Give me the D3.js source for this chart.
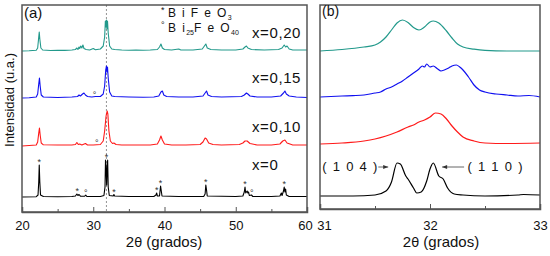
<!DOCTYPE html>
<html><head><meta charset="utf-8">
<script src="https://cdn.jsdelivr.net/npm/d3@7"></script>
<style>
html,body{margin:0;padding:0;background:#fff;}
text{font-family:Arial,"Liberation Sans",sans-serif;fill:#111;}
</style></head>
<body>
<svg id="chart" width="550" height="256"></svg>
<script>
// ---------- DATA ----------
const seriesNames = ["x=0,20", "x=0,15", "x=0,10", "x=0"];
const seriesColors = ["#22998b", "#1010f0", "#ff1a1a", "#000000"];
const leftTicks = [20, 30, 40, 50, 60];
const leftMinorTicks = [25, 35, 45, 55];
const rightTicks = [31, 32, 33];
const rightMinorTicks = [31.5, 32.5];
const leftOffsets = [161, 114, 66, 15];
const rightOffsets = [158, 112, 65, 13];
const dashedTheta = 31.85;

// Panel (a): 2θ vs intensity (a.u.) above each baseline
const leftX020 = [[20,0],[21,0.3],[22,0.8],[22.2,3],[22.35,14],[22.42,19],[22.5,12],[22.65,3],[22.9,1],[24,0.5],[25,0.8],[26,0.6],[27,1],[27.5,1.5],[27.7,3],[27.85,1.5],[28.0,4],[28.1,2.5],[28.25,5],[28.4,3],[28.55,6],[28.7,2.5],[29.0,1.5],[29.5,1],[30.0,2.5],[30.3,1.2],[31.0,2],[31.4,5],[31.6,14],[31.7,30],[31.78,24],[31.85,31],[31.92,22],[32.0,30],[32.1,18],[32.3,5],[32.6,2],[33,1.5],[34,1],[35,0.8],[36,1],[37,0.7],[38,1],[39,1.5],[39.3,4],[39.5,7],[39.7,3],[40,1.5],[41,1],[42,2],[42.3,1],[44,1],[45.3,2],[45.6,5],[45.8,7],[46.0,3],[46.5,1.5],[48,1],[50,1],[51,2],[51.3,4],[51.5,5],[51.7,3],[52.2,1.5],[54,1],[56,1.5],[56.5,3],[56.8,6],[57.0,4],[57.2,5],[57.5,2],[58,1],[60,1]];
const leftX015 = [[20,0],[21,0.3],[22,1],[22.2,4],[22.35,14],[22.45,20],[22.55,12],[22.7,3],[23,1],[25,0.5],[27,1],[27.8,1.5],[28.0,3],[28.2,2],[28.5,4],[28.7,5],[28.9,3],[29.2,1.5],[29.8,1],[30.3,1.5],[31,1.5],[31.4,4],[31.6,12],[31.75,28],[31.85,32],[31.92,26],[32.0,31],[32.1,20],[32.3,6],[32.6,2],[33,1.5],[35,1],[37,0.8],[38.5,1],[39.2,2],[39.5,6],[39.7,7],[39.9,3],[40.3,1.5],[42,1],[44,1],[45.4,2],[45.7,5],[45.9,7],[46.1,3],[46.6,1.5],[48,1],[50.8,1.5],[51.2,3],[51.5,5],[51.7,4],[52,2],[53,1],[55,1],[56.3,2],[56.7,5],[56.9,7],[57.1,4],[57.5,2],[58.5,1],[60,0.5]];
const leftX010 = [[20,0],[21,0.5],[22,1],[22.2,4],[22.35,13],[22.45,18],[22.55,11],[22.7,3],[23,1.2],[25,1],[27,1],[27.5,1.5],[27.7,3.5],[27.9,1.5],[28.1,2],[28.4,1],[28.9,2.5],[29.2,1],[30,1],[31,1.5],[31.4,5],[31.6,15],[31.8,30],[31.95,35],[32.05,32],[32.2,15],[32.4,5],[32.7,2.5],[32.9,3],[33.2,1.5],[34,1],[36,1],[38,1],[39,2],[39.3,6],[39.5,10],[39.7,6],[40,2],[41,1],[43,1],[45,1.5],[45.4,4],[45.7,8],[45.9,7],[46.2,3],[46.8,1.5],[48,1],[50.5,1.5],[51,3],[51.3,5],[51.6,5],[52,2.5],[53,1],[55,1],[56.2,2],[56.6,5],[56.9,6],[57.2,3],[58,1],[60,1]];
const leftX000 = [[20,0],[22,0.3],[22.25,2],[22.35,15],[22.42,32],[22.5,15],[22.6,2],[23,0.5],[25,0.3],[27,0.5],[27.5,1],[27.7,3],[27.85,1.5],[28,2.5],[28.2,0.8],[28.8,0.8],[28.95,1.8],[29.1,0.5],[31,0.5],[31.5,1.5],[31.65,10],[31.72,37],[31.8,28],[31.88,12],[31.95,30],[32.02,37],[32.1,10],[32.25,1.5],[32.8,1],[32.9,2.5],[33.0,1],[35,0.5],[38.5,0.5],[38.8,2],[38.9,4],[39.0,1],[39.3,1],[39.45,11],[39.55,6],[39.65,1],[42,0.5],[45.5,0.5],[45.7,3],[45.8,12],[45.9,7],[46.0,1],[50,0.5],[51,1],[51.2,5],[51.3,10],[51.4,4],[51.6,6],[51.7,4],[51.8,5],[51.9,1.5],[52.2,2],[52.4,0.5],[55,0.5],[56.2,1],[56.4,4],[56.5,1.5],[56.7,6],[56.8,10],[56.9,5],[57.0,8],[57.1,2],[57.5,0.5],[60,0.5]];

// Phase markers: [2θ, level above baseline]
const starMarksX000 = [[22.42,35],[27.75,6],[31.87,40],[32.9,5],[38.9,7],[39.45,14],[45.8,15],[51.3,13],[56.8,13]];
const circMarksX000 = [[28.95,4],[52.25,4]];
const circMarksX015 = [[30.2,3]];
const circMarksX010 = [[30.5,3]];

// Panel (b): zoom 31–33°
const rightX020 = [[31.0,0],[31.2,1.5],[31.4,4],[31.5,6],[31.55,9],[31.6,14],[31.65,21],[31.7,28],[31.75,31],[31.8,28.5],[31.85,23.5],[31.9,21],[31.95,24],[32.0,29],[32.03,30],[32.08,28],[32.15,20],[32.2,13],[32.25,7],[32.3,4],[32.4,1.8],[32.5,0.6],[32.7,0],[33.0,0]];
const rightX015 = [[31.0,0],[31.1,0.5],[31.2,1],[31.3,1.4],[31.4,2],[31.5,4],[31.55,5],[31.6,8],[31.65,10],[31.7,13],[31.75,16],[31.8,20],[31.85,24],[31.9,28],[31.93,31],[31.95,30],[31.97,33],[32.0,30],[32.03,31],[32.07,28],[32.1,26],[32.13,27],[32.17,29],[32.2,31],[32.24,32],[32.27,30],[32.3,27],[32.35,20],[32.4,12],[32.45,7],[32.5,5],[32.6,3],[32.7,2],[32.8,1],[32.9,1.5],[33.0,0]];
const rightX010 = [[31.0,0],[31.2,1],[31.4,3],[31.5,5],[31.6,8],[31.7,12],[31.8,17],[31.85,19],[31.9,22],[31.95,24],[32.0,27],[32.05,31],[32.1,30],[32.15,25],[32.2,18],[32.25,12],[32.3,7],[32.4,3],[32.5,1],[32.7,0.5],[33.0,1]];
const rightX000 = [[31.0,0],[31.3,0],[31.5,1],[31.6,5],[31.65,14],[31.7,33],[31.73,32],[31.78,20],[31.8,17],[31.85,8],[31.88,3],[31.92,4],[31.97,15],[32.0,27],[32.03,33],[32.08,20],[32.12,17],[32.16,8],[32.22,2],[32.3,1],[32.5,0],[32.8,1],[32.85,1.5],[33.0,1]];

const leftSeries = [leftX020, leftX015, leftX010, leftX000];
const rightSeries = [rightX020, rightX015, rightX010, rightX000];

// ---------- DRAW ----------
const svg = d3.select("#chart");
const L = {x0:22, x1:307, y0:5, y1:212};
const R = {x0:320, x1:540, y0:5, y1:209};

const xL = d3.scaleLinear().domain([20,60]).range([L.x0, L.x1]);
const yL = d3.scaleLinear().domain([0,207]).range([L.y1, L.y0]);
const xR = d3.scaleLinear().domain([31,33]).range([R.x0, R.x1]);
const yR = d3.scaleLinear().domain([0,204]).range([R.y1, R.y0]);

// dashed line
svg.append("line")
  .attr("x1", xL(dashedTheta)).attr("x2", xL(dashedTheta))
  .attr("y1", L.y0).attr("y2", L.y1)
  .attr("stroke", "#777").attr("stroke-width", 0.8).attr("stroke-dasharray", "2,2");

// curves
leftSeries.forEach((s, i) => {
  const line = d3.line().x(d => xL(d[0])).y(d => yL(d[1] + leftOffsets[i]));
  svg.append("path").attr("d", line(s)).attr("fill", "none")
    .attr("stroke", seriesColors[i]).attr("stroke-width", 1.1).attr("stroke-linejoin", "round");
});
rightSeries.forEach((s, i) => {
  const line = d3.line().x(d => xR(d[0])).y(d => yR(d[1] + rightOffsets[i])).curve(d3.curveMonotoneX);
  svg.append("path").attr("d", line(s)).attr("fill", "none")
    .attr("stroke", seriesColors[i]).attr("stroke-width", 1.2).attr("stroke-linejoin", "round");
});

// markers
function marks(arr, off, sym, size) {
  svg.append("g").selectAll("text").data(arr).join("text")
    .attr("x", d => xL(d[0])).attr("y", d => yL(d[1] + off) + 3)
    .attr("text-anchor", "middle").attr("font-size", size).style("fill", "#333").text(sym);
}
marks(starMarksX000, leftOffsets[3], "*", 9);
marks(circMarksX000, leftOffsets[3], "°", 9);
marks(circMarksX015, leftOffsets[1], "°", 9);
marks(circMarksX010, leftOffsets[2], "°", 9);

// frames
[L, R].forEach(P => {
  svg.append("rect").attr("x", P.x0).attr("y", P.y0)
    .attr("width", P.x1 - P.x0).attr("height", P.y1 - P.y0)
    .attr("fill", "none").attr("stroke", "#555").attr("stroke-width", 1.5);
});

// axes
function xAxis(scale, ticks, minor, yPos, pad, nudge) {
  const g = svg.append("g").attr("transform", `translate(0,${yPos})`)
    .call(d3.axisBottom(scale).tickValues(ticks).tickSize(-5).tickPadding(pad).tickFormat(d3.format("d")));
  g.select(".domain").attr("stroke", "#555").attr("stroke-width", 1.5);
  g.selectAll(".tick line").attr("stroke", "#555");
  g.selectAll(".tick text").attr("font-size", 13).style("fill", "#111")
    .attr("font-family", "Arial, 'Liberation Sans', sans-serif")
    .attr("dx", d => nudge[d] || 0);
  const m = svg.append("g").attr("transform", `translate(0,${yPos})`)
    .call(d3.axisBottom(scale).tickValues(minor).tickSize(-3).tickFormat(""));
  m.select(".domain").remove();
  m.selectAll(".tick line").attr("stroke", "#555");
}
xAxis(xL, leftTicks, leftMinorTicks, L.y1, 9, {60: -2});
xAxis(xR, rightTicks, rightMinorTicks, R.y1, 12, {31: 4});

// axis titles
function xTitle(cx, y) {
  const t = svg.append("text").attr("x", cx).attr("y", y).attr("text-anchor", "middle").attr("font-size", 15);
  t.append("tspan").text("2");
  t.append("tspan").attr("font-family", "'DejaVu Sans', sans-serif").attr("font-size", 13).text("θ");
  t.append("tspan").text(" (grados)");
}
xTitle(164, 247);
xTitle(441, 247);

svg.append("text").attr("transform", "translate(14,100) rotate(-90)")
  .attr("text-anchor", "middle").attr("font-size", 13).text("Intensidad (u.a.)");

// panel letters
svg.append("text").attr("x", 24).attr("y", 18).attr("font-size", 15).text("(a)");
svg.append("text").attr("x", 322).attr("y", 16).attr("font-size", 14).text("(b)");

// series labels
const labelY = [38, 83, 132, 170];
seriesNames.forEach((n, i) => {
  svg.append("text").attr("x", 252).attr("y", labelY[i]).attr("font-size", 15)
    .attr("letter-spacing", 0.6).text(n);
});

// legend
const lg1 = svg.append("text").attr("x", 161).attr("y", 17).attr("font-size", 12).attr("letter-spacing", 1.4);
lg1.append("tspan").attr("font-size", 9).attr("dy", -4).text("*");
lg1.append("tspan").attr("dx", 2).attr("dy", 4).text("B i F e O");
lg1.append("tspan").attr("font-size", 7).attr("dy", 3).text("3");

const lg2 = svg.append("text").attr("x", 161).attr("y", 32).attr("font-size", 12).attr("letter-spacing", 1.4);
lg2.append("tspan").attr("font-size", 9).attr("dy", -4).text("°");
lg2.append("tspan").attr("dx", 2).attr("dy", 4).text("B i");
lg2.append("tspan").attr("font-size", 7).attr("dy", 3).attr("letter-spacing", 0).text("25");
lg2.append("tspan").attr("dy", -3).text("F e O");
lg2.append("tspan").attr("font-size", 7).attr("dy", 3).attr("letter-spacing", 0).text("40");

// hkl annotations
function arrow(xFrom, xTo, y) {
  svg.append("line").attr("x1", xFrom).attr("x2", xTo).attr("y1", y).attr("y2", y)
    .attr("stroke", "#666").attr("stroke-width", 1);
  const dir = Math.sign(xTo - xFrom);
  svg.append("path")
    .attr("d", `M${xTo},${y} L${xTo - dir * 5},${y - 2} L${xTo - dir * 5},${y + 2} Z`)
    .attr("fill", "#333");
}
svg.append("text").attr("x", xR(31.02)).attr("y", 171).attr("font-size", 13)
  .attr("letter-spacing", 1.3).text("( 1 0 4 )");
arrow(xR(31.53), xR(31.62), 167);
svg.append("text").attr("x", xR(32.34)).attr("y", 171).attr("font-size", 13)
  .attr("letter-spacing", 1.3).text("( 1 1 0 )");
arrow(xR(32.31), xR(32.11), 167);
</script>
</body></html>
